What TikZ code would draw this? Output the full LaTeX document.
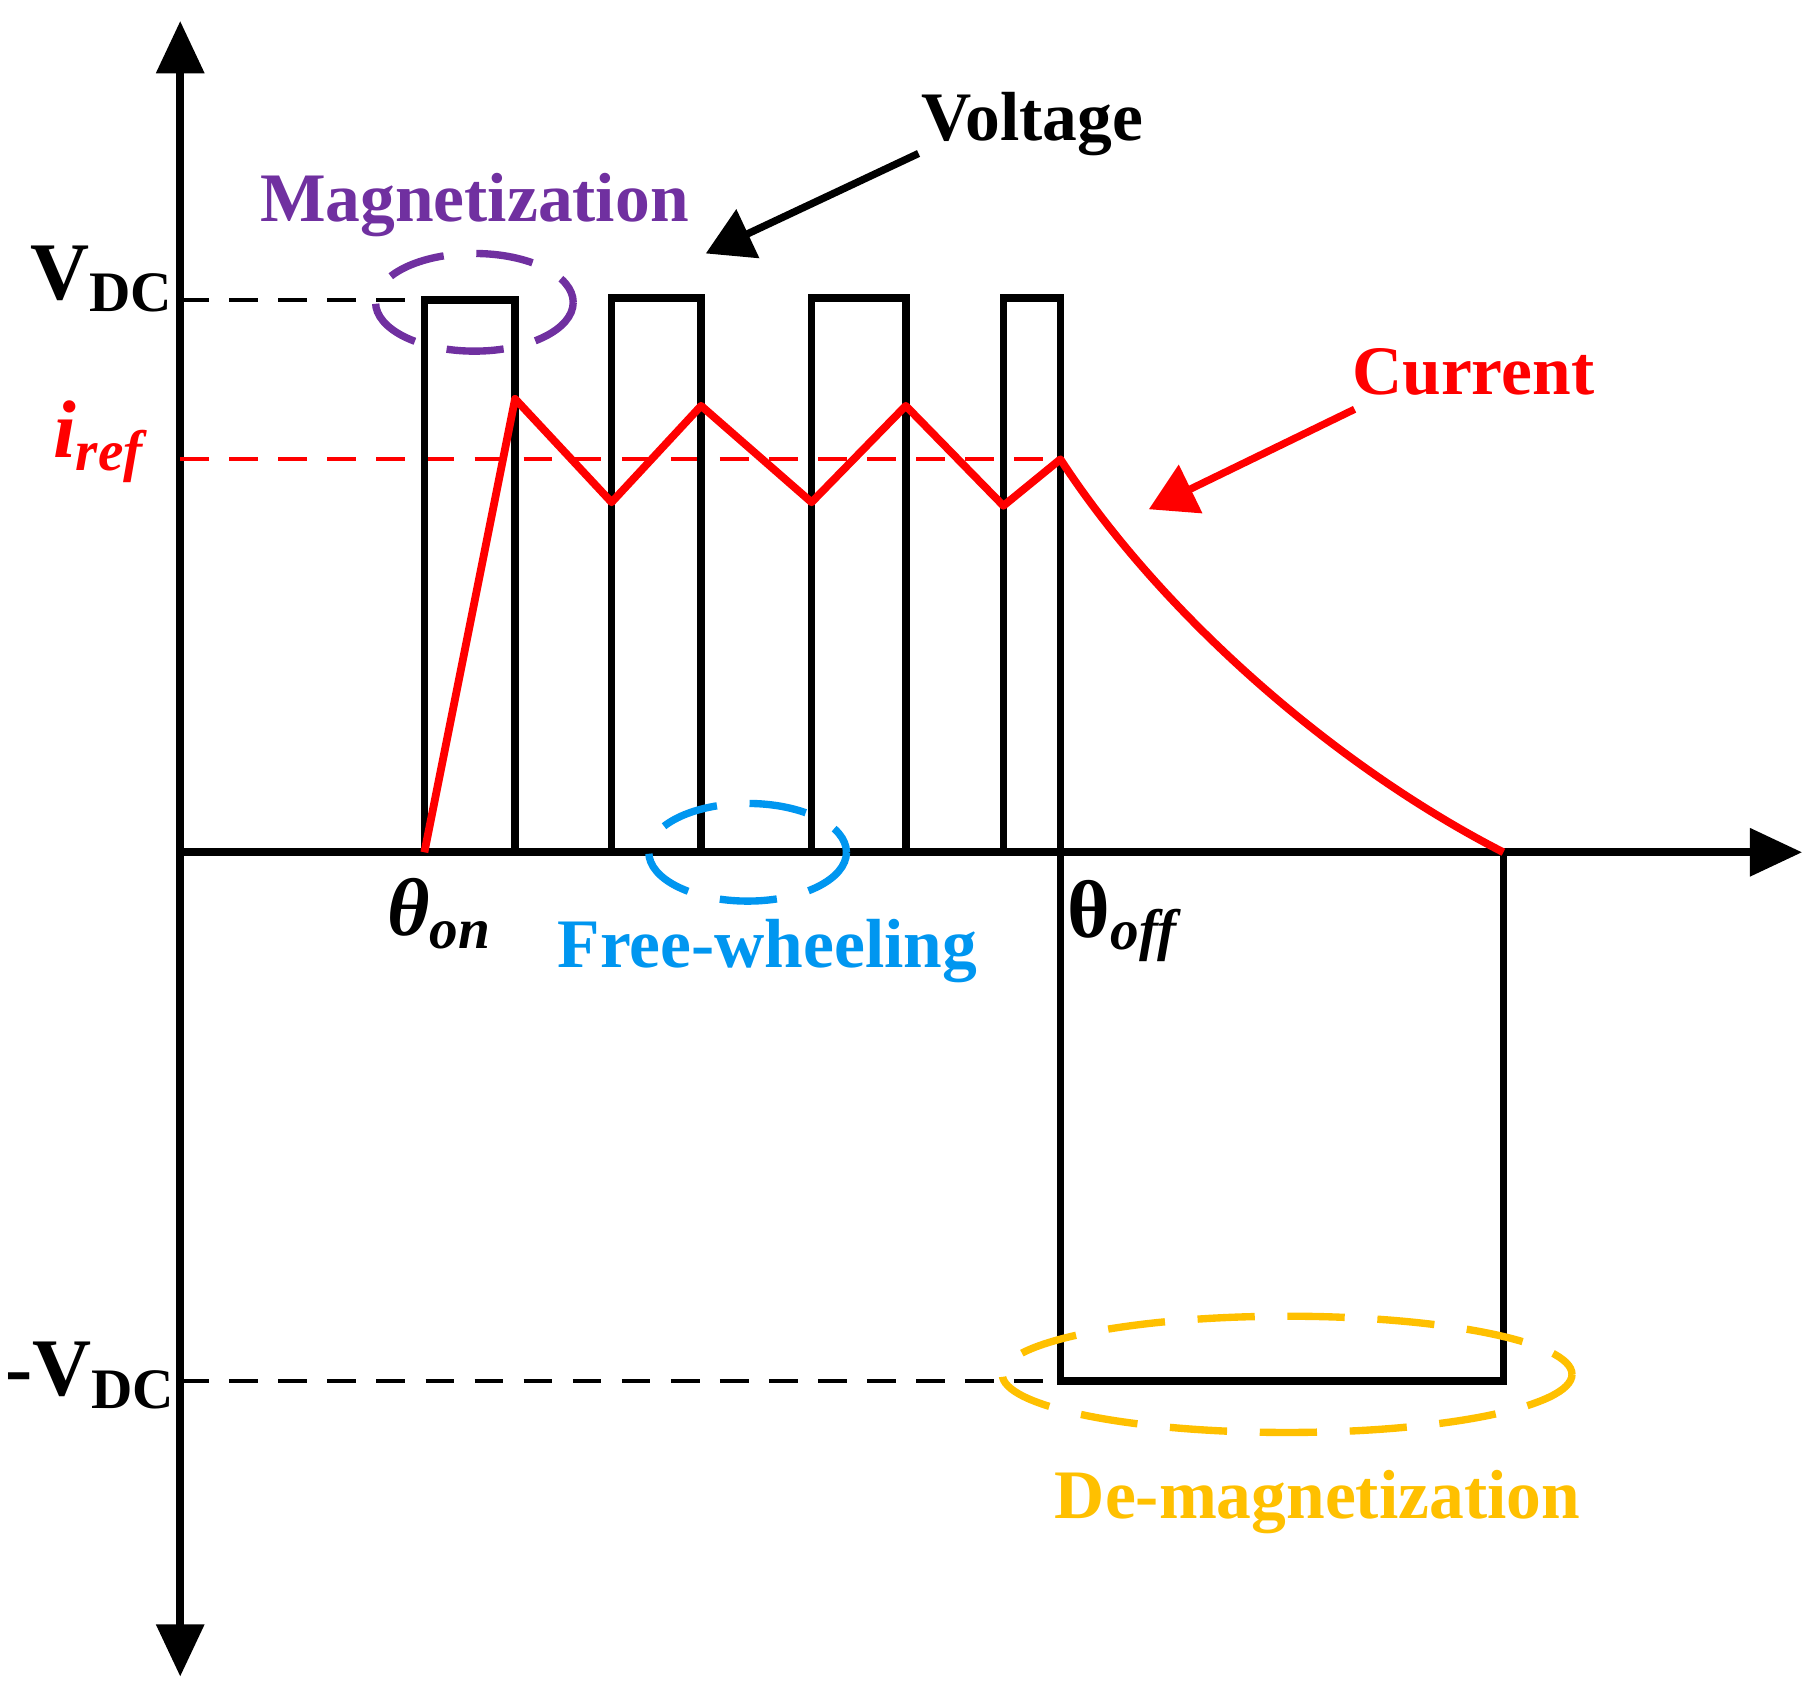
\documentclass[tikz,border=0pt]{standalone}
\usepackage{fontspec}
\setmainfont{Liberation Serif}
\usetikzlibrary{arrows.meta}
\definecolor{mpurple}{RGB}{112,48,160}
\definecolor{mblue}{RGB}{0,150,240}
\definecolor{morange}{RGB}{255,192,0}
\begin{document}
\begin{tikzpicture}[x=0.01cm,y=-0.01cm,
  lbl/.style={font=\fontsize{17}{19}\selectfont\bfseries,inner sep=0},
  big/.style={font=\fontsize{20}{22}\selectfont\bfseries,inner sep=0},
  wave/.style={line width=1.9pt,line join=miter},
  ax/.style={line width=2pt,-{Triangle[length=0.45cm,width=0.4cm]}},
  ptr/.style={line width=1.8pt,-{Triangle[length=0.4cm,width=0.45cm]}},
  dl/.style={dashed,line width=1pt,dash pattern=on 7pt off 5pt},
  ell/.style={dashed,line width=1.8pt,dash pattern=on 14pt off 8pt}]
\useasboundingbox (0,0) rectangle (1555,1445);
% axes
\coordinate (o) at (155,733);
\coordinate (yt) at (155,18);
\coordinate (yb) at (155,1442);
\coordinate (xr) at (1550,733);
\draw[ax] (o) -- (yt);
\draw[ax] (o) -- (yb);
\draw[ax] (o) -- (xr);
% dashed levels
\draw[dl] (155,258) -- (365,258);
\draw[dl,red] (155,395) -- (912,395);
\draw[dl] (155,1188) -- (912,1188);
% voltage pulses
\draw[wave] (365,733) -- (365,258) -- (443,258) -- (443,733);
\draw[wave] (526,733) -- (526,256) -- (603,256) -- (603,733);
\draw[wave] (698,733) -- (698,256) -- (779,256) -- (779,733);
\draw[wave] (863,733) -- (863,256) -- (912,256) -- (912,1188) -- (1293,1188) -- (1293,733);
% current
\draw[wave,red,line join=round] (365,733) -- (443,343) -- (526,432) -- (603,349) -- (698,432) -- (779,349) -- (863,435) -- (912,395)
  .. controls (1000,530) and (1150,660) .. (1293,733);
% ellipses
\draw[ell,mpurple] (408,260) ellipse [x radius=85,y radius=42];
\draw[ell,mblue] (643,733) ellipse [x radius=85,y radius=42];
\draw[ell,morange] (1107,1182) ellipse [x radius=245,y radius=50];
% labels
\node[lbl] (volt) at (888,107) {Voltage};
\node[lbl,text=mpurple] (mag) at (408,176) {Magnetization};
\node[lbl,text=red] (cur) at (1267,320) {Current};
\node[lbl,text=mblue] (fw) at (660,818) {Free-wheeling};
\node[lbl,text=morange] (dm) at (1133,1292) {De-magnetization};
\coordinate (va) at (607,218);
\coordinate (ca) at (988,438);
\draw[ptr] (790,132) -- (va);
\draw[ptr,red] (1165,352) -- (ca);
\node[big] (ton) at (378,786) {\textit{θ\textsubscript{on}}};
\node[big] (toff) at (968,792) {θ\textsubscript{\textit{off}}};
\node[big] (vdc) at (88,240) {V\textsubscript{DC}};
\node[big,text=red] (iref) at (85,380) {\textit{i\textsubscript{ref}}};
\node[big] (mvdc) at (78,1183) {-V\textsubscript{DC}};
\end{tikzpicture}
\end{document}
